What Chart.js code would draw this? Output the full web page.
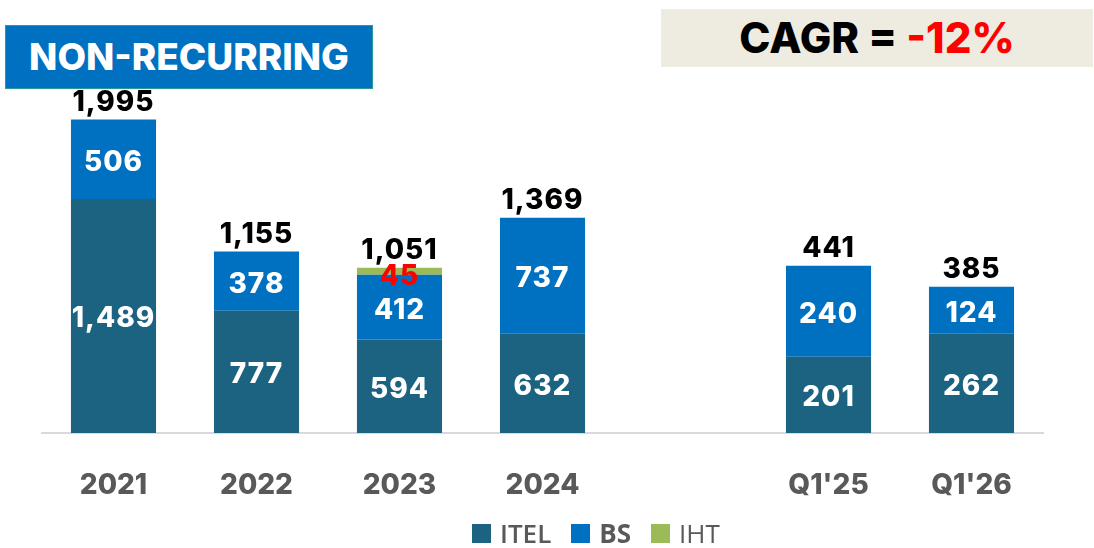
<!DOCTYPE html>
<html lang="en">
<head>
    <meta charset="UTF-8">
    <title>Non-recurring</title>
    <script src="https://cdn.jsdelivr.net/npm/chart.js"></script>
    <style>
        body { margin: 0; background: #fff; font-family: "Inter", sans-serif; }
        #wrap { position: relative; width: 1094px; height: 548px; overflow: hidden; }
        #title {
            position: absolute; left: 5px; top: 25px; width: 368px; height: 64px;
            background: #0070C0; border: 1px solid #2A9A96; box-sizing: border-box;
            color: #fff; font-weight: 800; font-size: 37px; line-height: 61px;
            text-align: center;
        }
        #cagr {
            position: absolute; left: 661px; top: 9px; width: 432px; height: 58px;
            background: #EEEBE0; color: #000; font-weight: 800; font-size: 42px;
            line-height: 58px; text-align: center;
        }
        #cagr .neg { color: #FF0000; }
        #legend {
            position: absolute; left: 472px; top: 517px; height: 32px;
            display: flex; gap: 20px;
            font-family: "Open Sans", sans-serif; font-size: 26px; color: #595959;
        }
        #legend .item { display: flex; align-items: center; gap: 9px; }
        #legend .box { width: 19px; height: 19px; }
    </style>
</head>
<body>
<div id="wrap">
    <canvas id="chart" width="1094" height="548"></canvas>
    <div id="title">NON-RECURRING</div>
    <div id="cagr">CAGR = <span class="neg">-12%</span></div>
    <div id="legend"></div>
</div>

<script>
    // yearly and quarterly figures live on separate value scales
    const years = ['2021', '2022', '2023', '2024'];
    const quarters = ["Q1'25", "Q1'26"];

    const itelYear = [1489, 777, 594, 632];
    const bsYear = [506, 378, 412, 737];
    const ihtYear = [null, null, 45, null];
    const totalYear = [1995, 1155, 1051, 1369];

    const itelQuarter = [201, 262];
    const bsQuarter = [240, 124];
    const totalQuarter = [441, 385];

    const colors = { ITEL: '#1B6380', BS: '#0070C0', IHT: '#9BBB59' };

    const labels = [...years, '', ...quarters];
    const gap = [null];
    const yearData = (arr) => [...arr, ...gap, ...quarters.map(() => null)];
    const quarterData = (arr) => [...years.map(() => null), ...gap, ...arr];
    const totals = [...totalYear, null, ...totalQuarter];

    const numFont = '800 28px "Inter"';

    // draws values inside segments and the totals above each column
    const valueLabels = {
        id: 'valueLabels',
        afterDatasetsDraw(chart) {
            const ctx = chart.ctx;
            ctx.save();
            ctx.font = numFont;
            ctx.letterSpacing = '1px';
            ctx.textAlign = 'center';
            ctx.textBaseline = 'middle';
            const tops = {};
            chart.data.datasets.forEach((ds, i) => {
                const meta = chart.getDatasetMeta(i);
                meta.data.forEach((bar, j) => {
                    const v = ds.data[j];
                    if (v === null || v === undefined) return;
                    const top = Math.min(bar.y, bar.base);
                    if (tops[j] === undefined || top < tops[j]) tops[j] = top;
                    if (ds.label === 'IHT') {
                        ctx.fillStyle = '#FF0000';
                        ctx.fillText(v.toLocaleString('en-US'), bar.x, bar.y + 9);
                    } else {
                        ctx.fillStyle = '#FFFFFF';
                        ctx.fillText(v.toLocaleString('en-US'), bar.x, (bar.y + bar.base) / 2 + 3);
                    }
                });
            });
            ctx.fillStyle = '#000000';
            totals.forEach((t, j) => {
                if (t === null) return;
                const x = chart.scales.x.getPixelForValue(j);
                ctx.fillText(t.toLocaleString('en-US'), x, tops[j] - 17);
            });
            ctx.restore();
        }
    };

    const datasets = [
        { label: 'ITEL', data: yearData(itelYear), backgroundColor: colors.ITEL, yAxisID: 'y' },
        { label: 'BS', data: yearData(bsYear), backgroundColor: colors.BS, yAxisID: 'y' },
        { label: 'IHT', data: yearData(ihtYear), backgroundColor: colors.IHT, yAxisID: 'y' },
        { label: 'ITEL', data: quarterData(itelQuarter), backgroundColor: colors.ITEL, yAxisID: 'y2' },
        { label: 'BS', data: quarterData(bsQuarter), backgroundColor: colors.BS, yAxisID: 'y2' }
    ];

    new Chart(document.getElementById('chart'), {
        type: 'bar',
        data: { labels, datasets },
        options: {
            responsive: false,
            animation: false,
            layout: { padding: { left: 42, right: 51, top: 40, bottom: 0 } },
            datasets: { bar: { categoryPercentage: 1, barPercentage: 0.595, borderWidth: 0 } },
            scales: {
                x: {
                    stacked: true,
                    grid: { display: false, drawTicks: false },
                    border: { display: true, color: '#D9D9D9', width: 2 },
                    ticks: { color: '#595959', font: { family: 'Inter', size: 28, weight: '800' }, padding: 36 },
                    afterFit(scale) { scale.height = 115; }
                },
                y: { stacked: true, display: false, min: 0, max: 2500 },
                y2: { stacked: true, display: false, min: 0, max: 1037 }
            },
            plugins: { legend: { display: false }, tooltip: { enabled: false } }
        },
        plugins: [valueLabels]
    });

    // legend built from the first three series
    const legend = document.getElementById('legend');
    ['ITEL', 'BS', 'IHT'].forEach((name) => {
        const item = document.createElement('div');
        item.className = 'item';
        const box = document.createElement('span');
        box.className = 'box';
        box.style.background = colors[name];
        const txt = document.createElement('span');
        txt.textContent = name;
        txt.style.fontWeight = name === 'BS' ? '700' : (name === 'ITEL' ? '600' : '400');
        item.appendChild(box);
        item.appendChild(txt);
        legend.appendChild(item);
    });
</script>
</body>
</html>
